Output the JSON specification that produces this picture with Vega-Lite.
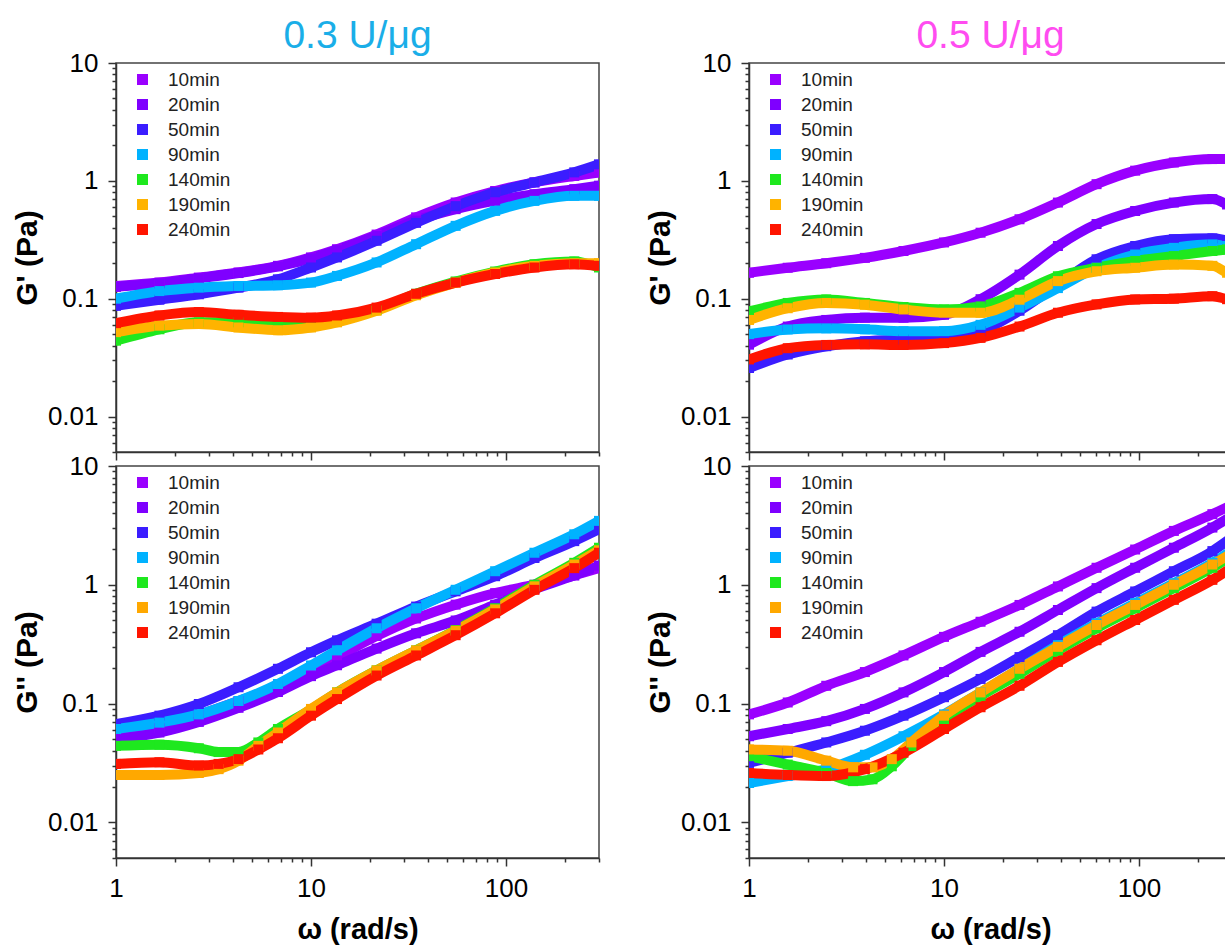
{
"$schema":"https://vega.github.io/schema/vega-lite/v6.json",
"padding":{"left":11,"top":16,"right":0,"bottom":0},
"bounds":"flush",
"columns":2,
"spacing":{"row":14,"column":150},
"config":{
 "font":"Liberation Sans",
 "view":{"stroke":"#444","strokeWidth":1.5},
 "axis":{"labelFont":"Liberation Sans","labelFontSize":26,"labelColor":"#000","domainColor":"#333","domainWidth":1.5,"tickColor":"#333","tickWidth":1.5,"grid":false,"titleFont":"Liberation Sans","titleFontSize":30,"titleFontWeight":"bold","titleColor":"#000","labelOverlap":false,"labelFlush":false,"labelBound":false},
 "title":{"font":"Liberation Sans","fontSize":39,"fontWeight":"normal","anchor":"middle","frame":"group","offset":-6},
 "legend":{"labelFont":"Liberation Sans","labelFontSize":19,"labelColor":"#222","symbolType":"square","symbolSize":90,"rowPadding":5,"labelOffset":16,"padding":0}
},
"resolve":{"scale":{"color":"independent","x":"independent","y":"independent"},"legend":{"color":"independent"},"axis":{"x":"independent","y":"independent"}},
"datasets":{
"tl":[
{"s":"10min","w":1,"v":0.128},{"s":"10min","w":1.67,"v":0.137},{"s":"10min","w":2.66,"v":0.151},{"s":"10min","w":4.25,"v":0.167},{"s":"10min","w":6.77,"v":0.19},{"s":"10min","w":10,"v":0.224},{"s":"10min","w":13.6,"v":0.263},{"s":"10min","w":21.7,"v":0.35},{"s":"10min","w":34.6,"v":0.49},{"s":"10min","w":55.2,"v":0.655},{"s":"10min","w":88,"v":0.82},{"s":"10min","w":140,"v":0.97},{"s":"10min","w":224,"v":1.1},{"s":"10min","w":300,"v":1.18},
{"s":"20min","w":1,"v":0.126},{"s":"20min","w":1.67,"v":0.135},{"s":"20min","w":2.66,"v":0.149},{"s":"20min","w":4.25,"v":0.165},{"s":"20min","w":6.77,"v":0.188},{"s":"20min","w":10,"v":0.22},{"s":"20min","w":13.6,"v":0.258},{"s":"20min","w":21.7,"v":0.34},{"s":"20min","w":34.6,"v":0.46},{"s":"20min","w":55.2,"v":0.575},{"s":"20min","w":88,"v":0.68},{"s":"20min","w":140,"v":0.77},{"s":"20min","w":224,"v":0.85},{"s":"20min","w":300,"v":0.91},
{"s":"50min","w":1,"v":0.087},{"s":"50min","w":1.67,"v":0.098},{"s":"50min","w":2.66,"v":0.109},{"s":"50min","w":4.25,"v":0.124},{"s":"50min","w":6.77,"v":0.146},{"s":"50min","w":10,"v":0.184},{"s":"50min","w":13.6,"v":0.224},{"s":"50min","w":21.7,"v":0.31},{"s":"50min","w":34.6,"v":0.44},{"s":"50min","w":55.2,"v":0.61},{"s":"50min","w":88,"v":0.8},{"s":"50min","w":140,"v":0.97},{"s":"50min","w":224,"v":1.18},{"s":"50min","w":300,"v":1.38},
{"s":"90min","w":1,"v":0.1},{"s":"90min","w":1.67,"v":0.116},{"s":"90min","w":2.66,"v":0.124},{"s":"90min","w":4.25,"v":0.128},{"s":"90min","w":6.77,"v":0.13},{"s":"90min","w":10,"v":0.137},{"s":"90min","w":13.6,"v":0.156},{"s":"90min","w":21.7,"v":0.203},{"s":"90min","w":34.6,"v":0.29},{"s":"90min","w":55.2,"v":0.415},{"s":"90min","w":88,"v":0.556},{"s":"90min","w":140,"v":0.676},{"s":"90min","w":224,"v":0.746},{"s":"90min","w":300,"v":0.746},
{"s":"140min","w":1,"v":0.044},{"s":"140min","w":1.67,"v":0.055},{"s":"140min","w":2.66,"v":0.063},{"s":"140min","w":4.25,"v":0.063},{"s":"140min","w":6.77,"v":0.06},{"s":"140min","w":10,"v":0.061},{"s":"140min","w":13.6,"v":0.065},{"s":"140min","w":21.7,"v":0.08},{"s":"140min","w":34.6,"v":0.11},{"s":"140min","w":55.2,"v":0.14},{"s":"140min","w":88,"v":0.17},{"s":"140min","w":140,"v":0.196},{"s":"140min","w":224,"v":0.207},{"s":"140min","w":300,"v":0.184},
{"s":"190min","w":1,"v":0.052},{"s":"190min","w":1.67,"v":0.059},{"s":"190min","w":2.66,"v":0.061},{"s":"190min","w":4.25,"v":0.057},{"s":"190min","w":6.77,"v":0.054},{"s":"190min","w":10,"v":0.057},{"s":"190min","w":13.6,"v":0.063},{"s":"190min","w":21.7,"v":0.079},{"s":"190min","w":34.6,"v":0.107},{"s":"190min","w":55.2,"v":0.137},{"s":"190min","w":88,"v":0.167},{"s":"190min","w":140,"v":0.19},{"s":"190min","w":224,"v":0.2},{"s":"190min","w":300,"v":0.2},
{"s":"240min","w":1,"v":0.062},{"s":"240min","w":1.67,"v":0.072},{"s":"240min","w":2.66,"v":0.077},{"s":"240min","w":4.25,"v":0.073},{"s":"240min","w":6.77,"v":0.07},{"s":"240min","w":10,"v":0.069},{"s":"240min","w":13.6,"v":0.072},{"s":"240min","w":21.7,"v":0.084},{"s":"240min","w":34.6,"v":0.11},{"s":"240min","w":55.2,"v":0.137},{"s":"240min","w":88,"v":0.162},{"s":"240min","w":140,"v":0.184},{"s":"240min","w":224,"v":0.196},{"s":"240min","w":300,"v":0.19}
],
"tr":[
{"s":"10min","w":1,"v":0.166},{"s":"10min","w":1.58,"v":0.183},{"s":"10min","w":2.49,"v":0.2},{"s":"10min","w":3.93,"v":0.222},{"s":"10min","w":6.2,"v":0.254},{"s":"10min","w":10,"v":0.3},{"s":"10min","w":15.4,"v":0.363},{"s":"10min","w":24.4,"v":0.472},{"s":"10min","w":38.4,"v":0.654},{"s":"10min","w":60.6,"v":0.937},{"s":"10min","w":95.6,"v":1.22},{"s":"10min","w":151,"v":1.43},{"s":"10min","w":238,"v":1.53},{"s":"10min","w":300,"v":1.53},
{"s":"20min","w":1,"v":0.0407},{"s":"20min","w":1.58,"v":0.058},{"s":"20min","w":2.49,"v":0.066},{"s":"20min","w":3.93,"v":0.069},{"s":"20min","w":6.2,"v":0.069},{"s":"20min","w":10,"v":0.073},{"s":"20min","w":15.4,"v":0.099},{"s":"20min","w":24.4,"v":0.16},{"s":"20min","w":38.4,"v":0.28},{"s":"20min","w":60.6,"v":0.43},{"s":"20min","w":95.6,"v":0.555},{"s":"20min","w":151,"v":0.654},{"s":"20min","w":238,"v":0.7},{"s":"20min","w":283,"v":0.63},{"s":"20min","w":300,"v":0.6},
{"s":"50min","w":1,"v":0.0258},{"s":"50min","w":1.58,"v":0.0336},{"s":"50min","w":2.49,"v":0.0395},{"s":"50min","w":3.93,"v":0.0435},{"s":"50min","w":6.2,"v":0.045},{"s":"50min","w":10,"v":0.0465},{"s":"50min","w":15.4,"v":0.053},{"s":"50min","w":24.4,"v":0.079},{"s":"50min","w":38.4,"v":0.132},{"s":"50min","w":60.6,"v":0.216},{"s":"50min","w":95.6,"v":0.28},{"s":"50min","w":151,"v":0.32},{"s":"50min","w":238,"v":0.325},{"s":"50min","w":283,"v":0.31},{"s":"50min","w":300,"v":0.3},
{"s":"90min","w":1,"v":0.05},{"s":"90min","w":1.58,"v":0.0548},{"s":"90min","w":2.49,"v":0.056},{"s":"90min","w":3.93,"v":0.055},{"s":"90min","w":6.2,"v":0.053},{"s":"90min","w":10,"v":0.053},{"s":"90min","w":15.4,"v":0.06},{"s":"90min","w":24.4,"v":0.084},{"s":"90min","w":38.4,"v":0.123},{"s":"90min","w":60.6,"v":0.183},{"s":"90min","w":95.6,"v":0.237},{"s":"90min","w":151,"v":0.27},{"s":"90min","w":238,"v":0.289},{"s":"90min","w":283,"v":0.28},{"s":"90min","w":300,"v":0.28},
{"s":"140min","w":1,"v":0.078},{"s":"140min","w":1.58,"v":0.092},{"s":"140min","w":2.49,"v":0.0985},{"s":"140min","w":3.93,"v":0.092},{"s":"140min","w":6.2,"v":0.085},{"s":"140min","w":10,"v":0.081},{"s":"140min","w":15.4,"v":0.086},{"s":"140min","w":24.4,"v":0.112},{"s":"140min","w":38.4,"v":0.155},{"s":"140min","w":60.6,"v":0.183},{"s":"140min","w":95.6,"v":0.209},{"s":"140min","w":151,"v":0.23},{"s":"140min","w":238,"v":0.254},{"s":"140min","w":283,"v":0.262},{"s":"140min","w":300,"v":0.265},
{"s":"190min","w":1,"v":0.066},{"s":"190min","w":1.58,"v":0.083},{"s":"190min","w":2.49,"v":0.092},{"s":"190min","w":3.93,"v":0.089},{"s":"190min","w":6.2,"v":0.081},{"s":"190min","w":10,"v":0.076},{"s":"190min","w":15.4,"v":0.076},{"s":"190min","w":24.4,"v":0.098},{"s":"190min","w":38.4,"v":0.141},{"s":"190min","w":60.6,"v":0.171},{"s":"190min","w":95.6,"v":0.183},{"s":"190min","w":151,"v":0.195},{"s":"190min","w":238,"v":0.19},{"s":"190min","w":283,"v":0.166},{"s":"190min","w":300,"v":0.16},
{"s":"240min","w":1,"v":0.0305},{"s":"240min","w":1.58,"v":0.038},{"s":"240min","w":2.49,"v":0.0405},{"s":"240min","w":3.93,"v":0.041},{"s":"240min","w":6.2,"v":0.0405},{"s":"240min","w":10,"v":0.042},{"s":"240min","w":15.4,"v":0.0465},{"s":"240min","w":24.4,"v":0.058},{"s":"240min","w":38.4,"v":0.076},{"s":"240min","w":60.6,"v":0.0895},{"s":"240min","w":95.6,"v":0.0985},{"s":"240min","w":151,"v":0.1},{"s":"240min","w":238,"v":0.105},{"s":"240min","w":283,"v":0.099},{"s":"240min","w":300,"v":0.097}
],
"bl":[
{"s":"10min","w":1,"v":0.05},{"s":"10min","w":1.67,"v":0.062},{"s":"10min","w":2.66,"v":0.08},{"s":"10min","w":4.25,"v":0.105},{"s":"10min","w":6.77,"v":0.14},{"s":"10min","w":10,"v":0.2},{"s":"10min","w":13.6,"v":0.25},{"s":"10min","w":21.7,"v":0.37},{"s":"10min","w":34.6,"v":0.52},{"s":"10min","w":55.2,"v":0.68},{"s":"10min","w":88,"v":0.85},{"s":"10min","w":140,"v":1.0},{"s":"10min","w":224,"v":1.2},{"s":"10min","w":300,"v":1.38},
{"s":"20min","w":1,"v":0.05},{"s":"20min","w":1.67,"v":0.057},{"s":"20min","w":2.66,"v":0.07},{"s":"20min","w":4.25,"v":0.092},{"s":"20min","w":6.77,"v":0.125},{"s":"20min","w":10,"v":0.17},{"s":"20min","w":13.6,"v":0.21},{"s":"20min","w":21.7,"v":0.29},{"s":"20min","w":34.6,"v":0.39},{"s":"20min","w":55.2,"v":0.5},{"s":"20min","w":88,"v":0.68},{"s":"20min","w":140,"v":0.92},{"s":"20min","w":224,"v":1.2},{"s":"20min","w":300,"v":1.45},
{"s":"50min","w":1,"v":0.067},{"s":"50min","w":1.67,"v":0.079},{"s":"50min","w":2.66,"v":0.099},{"s":"50min","w":4.25,"v":0.137},{"s":"50min","w":6.77,"v":0.196},{"s":"50min","w":10,"v":0.27},{"s":"50min","w":13.6,"v":0.34},{"s":"50min","w":21.7,"v":0.47},{"s":"50min","w":34.6,"v":0.655},{"s":"50min","w":55.2,"v":0.88},{"s":"50min","w":88,"v":1.18},{"s":"50min","w":140,"v":1.68},{"s":"50min","w":224,"v":2.33},{"s":"50min","w":300,"v":2.93},
{"s":"90min","w":1,"v":0.061},{"s":"90min","w":1.67,"v":0.069},{"s":"90min","w":2.66,"v":0.081},{"s":"90min","w":4.25,"v":0.105},{"s":"90min","w":6.77,"v":0.146},{"s":"90min","w":10,"v":0.209},{"s":"90min","w":13.6,"v":0.28},{"s":"90min","w":21.7,"v":0.43},{"s":"90min","w":34.6,"v":0.634},{"s":"90min","w":55.2,"v":0.907},{"s":"90min","w":88,"v":1.3},{"s":"90min","w":140,"v":1.86},{"s":"90min","w":224,"v":2.66},{"s":"90min","w":300,"v":3.45},
{"s":"140min","w":1,"v":0.044},{"s":"140min","w":1.67,"v":0.045},{"s":"140min","w":2.66,"v":0.042},{"s":"140min","w":3.36,"v":0.039},{"s":"140min","w":4.25,"v":0.039},{"s":"140min","w":5.37,"v":0.047},{"s":"140min","w":6.77,"v":0.061},{"s":"140min","w":10,"v":0.089},{"s":"140min","w":13.6,"v":0.124},{"s":"140min","w":21.7,"v":0.19},{"s":"140min","w":34.6,"v":0.28},{"s":"140min","w":55.2,"v":0.415},{"s":"140min","w":88,"v":0.634},{"s":"140min","w":140,"v":1.0},{"s":"140min","w":224,"v":1.53},{"s":"140min","w":300,"v":2.05},
{"s":"190min","w":1,"v":0.025},{"s":"190min","w":1.67,"v":0.025},{"s":"190min","w":2.66,"v":0.026},{"s":"190min","w":3.36,"v":0.028},{"s":"190min","w":4.25,"v":0.033},{"s":"190min","w":5.37,"v":0.044},{"s":"190min","w":6.77,"v":0.057},{"s":"190min","w":10,"v":0.09},{"s":"190min","w":13.6,"v":0.124},{"s":"190min","w":21.7,"v":0.19},{"s":"190min","w":34.6,"v":0.28},{"s":"190min","w":55.2,"v":0.41},{"s":"190min","w":88,"v":0.62},{"s":"190min","w":140,"v":0.97},{"s":"190min","w":224,"v":1.48},{"s":"190min","w":300,"v":1.95},
{"s":"240min","w":1,"v":0.031},{"s":"240min","w":1.67,"v":0.032},{"s":"240min","w":2.66,"v":0.03},{"s":"240min","w":3.36,"v":0.031},{"s":"240min","w":4.25,"v":0.034},{"s":"240min","w":5.37,"v":0.041},{"s":"240min","w":6.77,"v":0.051},{"s":"240min","w":10,"v":0.079},{"s":"240min","w":13.6,"v":0.109},{"s":"240min","w":21.7,"v":0.172},{"s":"240min","w":34.6,"v":0.254},{"s":"240min","w":55.2,"v":0.376},{"s":"240min","w":88,"v":0.575},{"s":"240min","w":140,"v":0.906},{"s":"240min","w":224,"v":1.38},{"s":"240min","w":300,"v":1.86}
],
"br":[
{"s":"10min","w":1,"v":0.081},{"s":"10min","w":1.58,"v":0.102},{"s":"10min","w":2.49,"v":0.141},{"s":"10min","w":3.93,"v":0.184},{"s":"10min","w":6.2,"v":0.254},{"s":"10min","w":10,"v":0.364},{"s":"10min","w":15.4,"v":0.488},{"s":"10min","w":24.4,"v":0.676},{"s":"10min","w":38.4,"v":0.968},{"s":"10min","w":60.6,"v":1.39},{"s":"10min","w":95.6,"v":1.98},{"s":"10min","w":151,"v":2.84},{"s":"10min","w":238,"v":3.93},{"s":"10min","w":300,"v":4.7},
{"s":"20min","w":1,"v":0.053},{"s":"20min","w":1.58,"v":0.061},{"s":"20min","w":2.49,"v":0.071},{"s":"20min","w":3.93,"v":0.09},{"s":"20min","w":6.2,"v":0.124},{"s":"20min","w":10,"v":0.184},{"s":"20min","w":15.4,"v":0.272},{"s":"20min","w":24.4,"v":0.402},{"s":"20min","w":38.4,"v":0.613},{"s":"20min","w":60.6,"v":0.937},{"s":"20min","w":95.6,"v":1.39},{"s":"20min","w":151,"v":2.05},{"s":"20min","w":238,"v":3.03},{"s":"20min","w":300,"v":3.8},
{"s":"50min","w":1,"v":0.0316},{"s":"50min","w":1.58,"v":0.0385},{"s":"50min","w":2.49,"v":0.047},{"s":"50min","w":3.93,"v":0.059},{"s":"50min","w":6.2,"v":0.079},{"s":"50min","w":10,"v":0.113},{"s":"50min","w":15.4,"v":0.161},{"s":"50min","w":24.4,"v":0.246},{"s":"50min","w":38.4,"v":0.376},{"s":"50min","w":60.6,"v":0.594},{"s":"50min","w":95.6,"v":0.878},{"s":"50min","w":151,"v":1.3},{"s":"50min","w":238,"v":1.92},{"s":"50min","w":300,"v":2.5},
{"s":"90min","w":1,"v":0.0214},{"s":"90min","w":1.58,"v":0.0245},{"s":"90min","w":2.49,"v":0.028},{"s":"90min","w":3.93,"v":0.037},{"s":"90min","w":6.2,"v":0.053},{"s":"90min","w":10,"v":0.081},{"s":"90min","w":15.4,"v":0.124},{"s":"90min","w":24.4,"v":0.196},{"s":"90min","w":38.4,"v":0.31},{"s":"90min","w":60.6,"v":0.473},{"s":"90min","w":95.6,"v":0.7},{"s":"90min","w":151,"v":1.03},{"s":"90min","w":238,"v":1.53},{"s":"90min","w":300,"v":1.95},
{"s":"140min","w":1,"v":0.036},{"s":"140min","w":1.58,"v":0.0306},{"s":"140min","w":2.49,"v":0.026},{"s":"140min","w":3.42,"v":0.0222},{"s":"140min","w":4.3,"v":0.023},{"s":"140min","w":5.4,"v":0.0296},{"s":"140min","w":6.8,"v":0.0438},{"s":"140min","w":10,"v":0.0738},{"s":"140min","w":15.4,"v":0.116},{"s":"140min","w":24.4,"v":0.178},{"s":"140min","w":38.4,"v":0.28},{"s":"140min","w":60.6,"v":0.43},{"s":"140min","w":95.6,"v":0.634},{"s":"140min","w":151,"v":0.937},{"s":"140min","w":238,"v":1.39},{"s":"140min","w":300,"v":1.75},
{"s":"190min","w":1,"v":0.041},{"s":"190min","w":1.58,"v":0.04},{"s":"190min","w":2.49,"v":0.033},{"s":"190min","w":3.42,"v":0.029},{"s":"190min","w":4.3,"v":0.029},{"s":"190min","w":5.4,"v":0.034},{"s":"190min","w":6.8,"v":0.047},{"s":"190min","w":10,"v":0.079},{"s":"190min","w":15.4,"v":0.124},{"s":"190min","w":24.4,"v":0.196},{"s":"190min","w":38.4,"v":0.3},{"s":"190min","w":60.6,"v":0.458},{"s":"190min","w":95.6,"v":0.676},{"s":"190min","w":151,"v":1.0},{"s":"190min","w":238,"v":1.48},{"s":"190min","w":300,"v":1.85},
{"s":"240min","w":1,"v":0.026},{"s":"240min","w":1.58,"v":0.025},{"s":"240min","w":2.49,"v":0.0245},{"s":"240min","w":3.93,"v":0.028},{"s":"240min","w":6.2,"v":0.0385},{"s":"240min","w":10,"v":0.061},{"s":"240min","w":15.4,"v":0.093},{"s":"240min","w":24.4,"v":0.141},{"s":"240min","w":38.4,"v":0.224},{"s":"240min","w":60.6,"v":0.341},{"s":"240min","w":95.6,"v":0.505},{"s":"240min","w":151,"v":0.746},{"s":"240min","w":238,"v":1.1},{"s":"240min","w":300,"v":1.4}
]
},
"concat":[
{"width":483,"height":389,"title":{"text":"0.3 U/μg","color":"#1aaee8"},"data":{"name":"tl"},
 "encoding":{
  "x":{"field":"w","type":"quantitative","scale":{"type":"log","domain":[1,300],"nice":false},"axis":{"values":[1,2,3,4,5,6,7,8,9,10,20,30,40,50,60,70,80,90,100,200,300],"labels":false,"title":null,"tickSize":{"condition":{"test":"datum.value==1||datum.value==10||datum.value==100","value":8},"value":4}}},
  "y":{"field":"v","type":"quantitative","scale":{"type":"log","domain":[0.005,10],"nice":false},"axis":{"title":"G' (Pa)","titlePadding":5,"labelPadding":10,"values":[0.005,0.006,0.007,0.008,0.009,0.01,0.02,0.03,0.04,0.05,0.06,0.07,0.08,0.09,0.1,0.2,0.3,0.4,0.5,0.6,0.7,0.8,0.9,1,2,3,4,5,6,7,8,9,10],"labelExpr":"datum.value==0.01?'0.01':datum.value==0.1?'0.1':datum.value==1?'1':datum.value==10?'10':''","tickSize":{"condition":{"test":"datum.value==0.01||datum.value==0.1||datum.value==1||datum.value==10","value":8},"value":4}}},
  "color":{"field":"s","type":"nominal","scale":{"domain":["10min","20min","50min","90min","140min","190min","240min"],"range":["#9a00ff","#7f00ff","#3b1dff","#00b2ff","#1ee81e","#ffb300","#ff1500"]},"legend":{"title":null,"orient":"none","legendX":17,"legendY":7}}
 },
 "layer":[
  {"mark":{"type":"line","strokeWidth":10,"interpolate":"monotone","clip":true,"strokeCap":"butt"}},
  {"mark":{"type":"point","shape":"square","filled":true,"size":100,"opacity":1,"clip":true}}
 ]
},
{"width":483,"height":389,"title":{"text":"0.5 U/μg","color":"#ff4cf0"},"data":{"name":"tr"},
 "encoding":{
  "x":{"field":"w","type":"quantitative","scale":{"type":"log","domain":[1,300],"nice":false},"axis":{"values":[1,2,3,4,5,6,7,8,9,10,20,30,40,50,60,70,80,90,100,200,300],"labels":false,"title":null,"tickSize":{"condition":{"test":"datum.value==1||datum.value==10||datum.value==100","value":8},"value":4}}},
  "y":{"field":"v","type":"quantitative","scale":{"type":"log","domain":[0.005,10],"nice":false},"axis":{"title":"G' (Pa)","titlePadding":5,"labelPadding":10,"values":[0.005,0.006,0.007,0.008,0.009,0.01,0.02,0.03,0.04,0.05,0.06,0.07,0.08,0.09,0.1,0.2,0.3,0.4,0.5,0.6,0.7,0.8,0.9,1,2,3,4,5,6,7,8,9,10],"labelExpr":"datum.value==0.01?'0.01':datum.value==0.1?'0.1':datum.value==1?'1':datum.value==10?'10':''","tickSize":{"condition":{"test":"datum.value==0.01||datum.value==0.1||datum.value==1||datum.value==10","value":8},"value":4}}},
  "color":{"field":"s","type":"nominal","scale":{"domain":["10min","20min","50min","90min","140min","190min","240min"],"range":["#9a00ff","#7f00ff","#3b1dff","#00b2ff","#1ee81e","#ffb300","#ff1500"]},"legend":{"title":null,"orient":"none","legendX":17,"legendY":7}}
 },
 "layer":[
  {"mark":{"type":"line","strokeWidth":10,"interpolate":"monotone","clip":true,"strokeCap":"butt"}},
  {"mark":{"type":"point","shape":"square","filled":true,"size":100,"opacity":1,"clip":true}}
 ]
},
{"width":483,"height":392,"data":{"name":"bl"},
 "encoding":{
  "x":{"field":"w","type":"quantitative","scale":{"type":"log","domain":[1,300],"nice":false},"axis":{"values":[1,2,3,4,5,6,7,8,9,10,20,30,40,50,60,70,80,90,100,200,300],"labelExpr":"datum.value==1?'1':datum.value==10?'10':datum.value==100?'100':''","labelPadding":9,"title":"ω (rad/s)","titleFontSize":29,"titlePadding":14,"tickSize":{"condition":{"test":"datum.value==1||datum.value==10||datum.value==100","value":8},"value":4}}},
  "y":{"field":"v","type":"quantitative","scale":{"type":"log","domain":[0.005,10],"nice":false},"axis":{"title":"G'' (Pa)","titlePadding":5,"labelPadding":10,"values":[0.005,0.006,0.007,0.008,0.009,0.01,0.02,0.03,0.04,0.05,0.06,0.07,0.08,0.09,0.1,0.2,0.3,0.4,0.5,0.6,0.7,0.8,0.9,1,2,3,4,5,6,7,8,9,10],"labelExpr":"datum.value==0.01?'0.01':datum.value==0.1?'0.1':datum.value==1?'1':datum.value==10?'10':''","tickSize":{"condition":{"test":"datum.value==0.01||datum.value==0.1||datum.value==1||datum.value==10","value":8},"value":4}}},
  "color":{"field":"s","type":"nominal","scale":{"domain":["10min","20min","50min","90min","140min","190min","240min"],"range":["#9a00ff","#7f00ff","#3b1dff","#00b2ff","#1ee81e","#ffa800","#ff1500"]},"legend":{"title":null,"orient":"none","legendX":17,"legendY":7}}
 },
 "layer":[
  {"mark":{"type":"line","strokeWidth":10,"interpolate":"monotone","clip":true,"strokeCap":"butt"}},
  {"mark":{"type":"point","shape":"square","filled":true,"size":100,"opacity":1,"clip":true}}
 ]
},
{"width":483,"height":392,"data":{"name":"br"},
 "encoding":{
  "x":{"field":"w","type":"quantitative","scale":{"type":"log","domain":[1,300],"nice":false},"axis":{"values":[1,2,3,4,5,6,7,8,9,10,20,30,40,50,60,70,80,90,100,200,300],"labelExpr":"datum.value==1?'1':datum.value==10?'10':datum.value==100?'100':''","labelPadding":9,"title":"ω (rad/s)","titleFontSize":29,"titlePadding":14,"tickSize":{"condition":{"test":"datum.value==1||datum.value==10||datum.value==100","value":8},"value":4}}},
  "y":{"field":"v","type":"quantitative","scale":{"type":"log","domain":[0.005,10],"nice":false},"axis":{"title":"G'' (Pa)","titlePadding":5,"labelPadding":10,"values":[0.005,0.006,0.007,0.008,0.009,0.01,0.02,0.03,0.04,0.05,0.06,0.07,0.08,0.09,0.1,0.2,0.3,0.4,0.5,0.6,0.7,0.8,0.9,1,2,3,4,5,6,7,8,9,10],"labelExpr":"datum.value==0.01?'0.01':datum.value==0.1?'0.1':datum.value==1?'1':datum.value==10?'10':''","tickSize":{"condition":{"test":"datum.value==0.01||datum.value==0.1||datum.value==1||datum.value==10","value":8},"value":4}}},
  "color":{"field":"s","type":"nominal","scale":{"domain":["10min","20min","50min","90min","140min","190min","240min"],"range":["#9a00ff","#7f00ff","#3b1dff","#00b2ff","#1ee81e","#ffa800","#ff1500"]},"legend":{"title":null,"orient":"none","legendX":17,"legendY":7}}
 },
 "layer":[
  {"mark":{"type":"line","strokeWidth":10,"interpolate":"monotone","clip":true,"strokeCap":"butt"}},
  {"mark":{"type":"point","shape":"square","filled":true,"size":100,"opacity":1,"clip":true}}
 ]
}
]
}
